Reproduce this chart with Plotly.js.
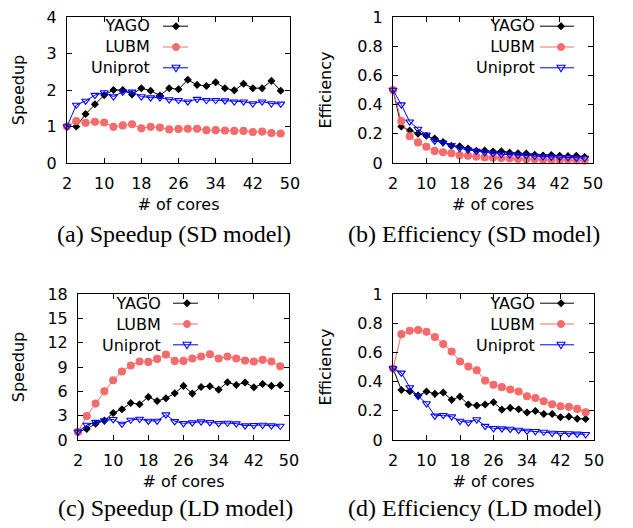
<!DOCTYPE html>
<html>
<head>
<meta charset="utf-8">
<script src="https://cdn.plot.ly/plotly-3.0.1.min.js"></script>
<style>
html,body{margin:0;padding:0;background:#fff;}
#chart{width:633px;height:528px;}
</style>
</head>
<body>
<div id="chart"></div>
<script>
var cores = [2,4,6,8,10,12,14,16,18,20,22,24,26,28,30,32,34,36,38,40,42,44,46,48];
var xTicks = [2,10,18,26,34,42,50];
var seriesNames = ["YAGO","LUBM","Uniprot"];

// (a) Speedup, SD model
var sdSpeedupYAGO = [1.0,1.0,1.34,1.61,1.86,2.0,2.0,1.88,2.05,1.98,1.85,2.05,2.02,2.28,2.14,2.11,2.21,2.05,1.99,2.17,2.05,2.05,2.25,1.98];
var sdSpeedupLUBM = [1.0,1.15,1.10,1.13,1.11,0.99,1.03,1.06,0.95,0.99,0.97,0.92,0.93,0.94,0.94,0.90,0.90,0.89,0.88,0.88,0.85,0.86,0.82,0.81];
var sdSpeedupUniprot = [1.0,1.59,1.70,1.86,1.93,1.82,1.95,1.95,1.82,1.79,1.79,1.74,1.72,1.68,1.75,1.72,1.72,1.71,1.68,1.68,1.63,1.68,1.63,1.62];

// (b) Efficiency, SD model
var sdEffYAGO = [0.5,0.25,0.223,0.201,0.186,0.167,0.143,0.118,0.114,0.099,0.084,0.085,0.078,0.081,0.071,0.066,0.065,0.057,0.052,0.054,0.049,0.047,0.049,0.041];
var sdEffLUBM = [0.5,0.287,0.183,0.141,0.111,0.083,0.074,0.066,0.053,0.050,0.044,0.038,0.036,0.034,0.031,0.028,0.026,0.025,0.023,0.022,0.020,0.020,0.018,0.017];
var sdEffUniprot = [0.5,0.40,0.283,0.233,0.193,0.152,0.139,0.122,0.101,0.090,0.081,0.073,0.066,0.060,0.058,0.054,0.051,0.048,0.044,0.042,0.039,0.038,0.035,0.034];

// (c) Speedup, LD model
var ldSpeedupYAGO = [1.0,1.36,2.0,2.39,3.33,3.79,4.57,4.40,5.31,4.81,5.14,5.76,6.67,5.72,6.54,6.63,6.21,7.12,6.79,7.08,6.50,6.91,6.67,6.75];
var ldSpeedupLUBM = [1.0,2.96,4.49,6.0,7.37,8.44,9.18,9.67,9.63,10.0,10.53,9.75,9.75,10.04,10.29,10.58,10.04,10.29,10.04,9.79,9.67,9.88,9.67,9.09];
var ldSpeedupUniprot = [1.0,1.85,2.2,2.4,2.55,1.98,2.47,2.59,2.35,2.35,3.13,2.3,2.06,2.14,2.26,2.18,2.06,2.1,2.02,1.77,1.81,1.85,1.77,1.73];

// (d) Efficiency, LD model
var ldEffYAGO = [0.49,0.343,0.334,0.304,0.332,0.316,0.325,0.275,0.297,0.243,0.236,0.243,0.259,0.208,0.22,0.21,0.188,0.199,0.178,0.178,0.156,0.16,0.146,0.144];
var ldEffLUBM = [0.49,0.725,0.748,0.753,0.741,0.705,0.657,0.606,0.538,0.503,0.478,0.407,0.378,0.362,0.346,0.332,0.30,0.288,0.265,0.245,0.231,0.227,0.213,0.19];
var ldEffUniprot = [0.49,0.46,0.36,0.30,0.25,0.165,0.17,0.16,0.13,0.12,0.14,0.095,0.08,0.078,0.075,0.068,0.062,0.06,0.055,0.048,0.046,0.045,0.042,0.039];

var captions = ["(a) Speedup (SD model)","(b) Efficiency (SD model)","(c) Speedup (LD model)","(d) Efficiency (LD model)"];

var W = 633, H = 528;
function px(x){return x/W;}
function py(y){return 1 - y/H;}

var colors = ["#000000","#f46b6b","#0000ff"];
var symbols = ["diamond","circle","triangle-down-open"];
var msizes = [5,7,7];

var panels = [
  {data:[sdSpeedupYAGO,sdSpeedupLUBM,sdSpeedupUniprot], xa:"x", ya:"y"},
  {data:[sdEffYAGO,sdEffLUBM,sdEffUniprot], xa:"x2", ya:"y2"},
  {data:[ldSpeedupYAGO,ldSpeedupLUBM,ldSpeedupUniprot], xa:"x3", ya:"y3"},
  {data:[ldEffYAGO,ldEffLUBM,ldEffUniprot], xa:"x4", ya:"y4"}
];

var traces = [];
panels.forEach(function(p){
  for (var i=0;i<3;i++){
    traces.push({
      x: cores, y: p.data[i], xaxis: p.xa, yaxis: p.ya, cliponaxis:false,
      type:"scatter", mode:"lines+markers", name: seriesNames[i], showlegend:false,
      line:{color:colors[i], width:1},
      marker:{symbol:symbols[i], size:msizes[i], color:colors[i], line:{color:colors[i], width:1.1}}
    });
  }
});

var tickFont = {family:"DejaVu Sans, sans-serif", size:16, color:"#000"};
var titleFont = {family:"DejaVu Sans, sans-serif", size:16, color:"#000"};

function xAxis(dom, anchor){
  return {domain:dom, anchor:anchor, range:[2,50], tickvals:xTicks, ticktext:xTicks.map(String),
    ticks:"inside", ticklen:5, tickcolor:"#000", showline:true, linecolor:"#000", linewidth:1,
    mirror:"ticks", showgrid:false, zeroline:false, tickfont:tickFont, ticklabelstandoff:6,
    automargin:false, title:{text:"# of cores", font:titleFont, standoff:6}};
}
function yAxis(dom, anchor, range, dtick, title, standoff){
  return {domain:dom, anchor:anchor, range:range, dtick:dtick, tick0:0,
    ticks:"inside", ticklen:5, tickcolor:"#000", showline:true, linecolor:"#000", linewidth:1,
    mirror:"ticks", showgrid:false, zeroline:false, tickfont:tickFont, ticklabelstandoff:6,
    automargin:false, title:{text:title, font:titleFont, standoff:standoff}};
}

var topDom = [py(163), py(17)];
var botDom = [py(440), py(294)];

var layout = {
  width:W, height:H, margin:{l:0,r:0,t:0,b:0}, paper_bgcolor:"#fff", plot_bgcolor:"#fff",
  showlegend:false,
  xaxis: xAxis([px(67),px(290)], "y"),
  yaxis: yAxis(topDom, "x", [0,4], 1, "Speedup", 18),
  xaxis2: xAxis([px(393),px(593)], "y2"),
  yaxis2: yAxis(topDom, "x2", [0,1], 0.2, "Efficiency", 21),
  xaxis3: xAxis([px(78),px(289)], "y3"),
  yaxis3: yAxis(botDom, "x3", [0,18], 3, "Speedup", 18),
  xaxis4: xAxis([px(393),px(594)], "y4"),
  yaxis4: yAxis(botDom, "x4", [0,1], 0.2, "Efficiency", 21),
  annotations: [], shapes: []
};

// captions
var capPos = [[174,234],[474,234],[175,508],[474,508]];
captions.forEach(function(c,i){
  layout.annotations.push({text:c, xref:"paper", yref:"paper", x:px(capPos[i][0]), y:py(capPos[i][1]),
    xanchor:"center", yanchor:"middle", showarrow:false,
    font:{family:"Liberation Serif, Times New Roman, serif", size:24, color:"#000"}});
});

// legend keys (gnuplot style: text then sample on the right)
var legFont = 16, lineGap = 1.3*legFont;
var legendSpecs = [
  {textRight:152, lx0:163, lx1:188, mx:176, mid:47},
  {textRight:537, lx0:540, lx1:574, mx:561, mid:47},
  {textRight:163, lx0:173, lx1:198, mx:187, mid:324},
  {textRight:537, lx0:540, lx1:574, mx:561, mid:324}
];
var glyphPaths = [
  "M 0,3.2 L 3.2,0 L 0,-3.2 L -3.2,0 Z",
  null,
  "M -4,2.6 L 4,2.6 L 0,-4 Z"
];
legendSpecs.forEach(function(s){
  layout.annotations.push({text:seriesNames.join("<br>"), xref:"paper", yref:"paper", x:px(s.textRight), y:py(s.mid),
    xanchor:"right", yanchor:"middle", align:"right", showarrow:false,
    font:{family:"DejaVu Sans, sans-serif", size:legFont, color:"#000"}});
  for (var i=0;i<3;i++){
    var yy = s.mid + (i-1)*lineGap;
    layout.shapes.push({type:"line", xref:"paper", yref:"paper", x0:px(s.lx0), x1:px(s.lx1), y0:py(yy), y1:py(yy),
      line:{color:colors[i], width:1}});
    if (i===1){
      layout.shapes.push({type:"circle", xref:"paper", yref:"paper", xsizemode:"pixel", ysizemode:"pixel",
        xanchor:px(s.mx), yanchor:py(yy), x0:-3.5, x1:3.5, y0:-3.5, y1:3.5,
        fillcolor:colors[i], line:{color:colors[i], width:1}});
    } else {
      layout.shapes.push({type:"path", xref:"paper", yref:"paper", xsizemode:"pixel", ysizemode:"pixel",
        xanchor:px(s.mx), yanchor:py(yy), path:glyphPaths[i],
        fillcolor: i===0 ? colors[i] : "rgba(255,255,255,0)", line:{color:colors[i], width:1.1}});
    }
  }
});

Plotly.newPlot("chart", traces, layout, {staticPlot:true, displayModeBar:false});
</script>
</body>
</html>
